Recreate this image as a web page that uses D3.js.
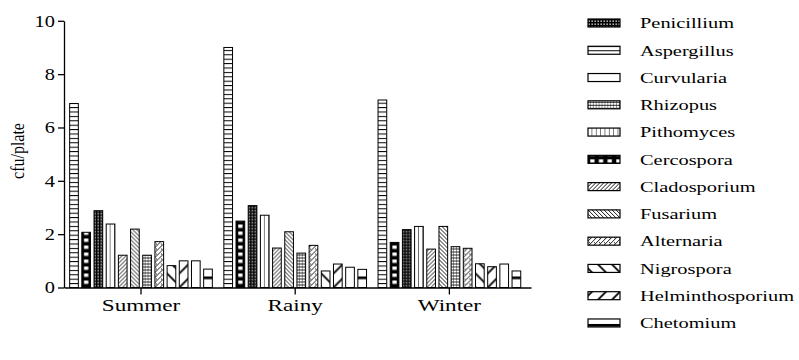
<!DOCTYPE html>
<html>
<head>
<meta charset="utf-8">
<script src="https://cdn.jsdelivr.net/npm/d3@7"></script>
<style>
  body { margin: 0; background: #fff; }
  svg { display: block; }
  svg text { font-family: "Liberation Serif", "Times New Roman", serif; fill: #000; }
</style>
</head>
<body>
<main></main>
<script>
const seasons = ["Summer", "Rainy", "Winter"];
const fungi = ["Penicillium", "Aspergillus", "Curvularia", "Rhizopus", "Pithomyces", "Cercospora",
  "Cladosporium", "Fusarium", "Alternaria", "Nigrospora", "Helminthosporium", "Chetomium"];
// values in the order of `fungi`
const summerValues = [2.88, 6.9, 1.0, 1.21, 2.38, 2.07, 1.21, 2.19, 1.72, 0.82, 1.0, 0.69];
const rainyValues  = [3.07, 9.0, 0.76, 1.29, 2.71, 2.49, 1.48, 2.09, 1.58, 0.62, 0.88, 0.68];
const winterValues = [2.17, 7.03, 0.88, 1.53, 2.29, 1.69, 1.44, 2.29, 1.47, 0.89, 0.78, 0.62];
// order in which the bars stand inside each season
const barOrder = ["Aspergillus", "Cercospora", "Penicillium", "Pithomyces", "Cladosporium", "Fusarium",
  "Rhizopus", "Alternaria", "Nigrospora", "Helminthosporium", "Curvularia", "Chetomium"];
const yTicks = [0, 2, 4, 6, 8, 10];

const valuesBySeason = { Summer: summerValues, Rainy: rainyValues, Winter: winterValues };
const serif = "'Liberation Serif', 'Times New Roman', serif";

const svg = d3.select("main").append("svg")
  .attr("width", 799).attr("height", 360).attr("viewBox", "0 0 799 360");

const x0 = d3.scaleBand().domain(seasons).range([64, 531])
  .paddingInner(0.0746).paddingOuter(0.0516).align(0.355);
const x1 = d3.scaleBand().domain(barOrder).range([0, x0.bandwidth()]).paddingInner(0.287);
const y = d3.scaleLinear().domain([0, 10]).range([287.5, 20.8]);
const bw = x1.bandwidth();

// fill patterns, one per fungus
const defs = svg.append("defs");
function pattern(name, w, h, draw) {
  const p = defs.append("pattern").attr("id", "p-" + name)
    .attr("patternUnits", "userSpaceOnUse").attr("width", w).attr("height", h);
  p.append("rect").attr("width", w).attr("height", h).attr("fill", "#fff");
  draw(p);
}
const line = (p, d, sw) => p.append("path").attr("d", d).attr("stroke", "#000")
  .attr("stroke-width", sw || 1).attr("fill", "none");

pattern("Aspergillus", 10, 4.4, p => line(p, "M0,0.5H10"));
pattern("Cercospora", bw, 7, p => {
  p.select("rect").attr("fill", "#000");
  p.append("rect").attr("x", 2.2).attr("y", 0).attr("width", bw - 4.4).attr("height", 3.4).attr("fill", "#fff");
});
pattern("Penicillium", 3, 3, p => {
  p.select("rect").attr("fill", "#000");
  p.append("rect").attr("x", 0.5).attr("y", 0.5).attr("width", 1.3).attr("height", 1.3).attr("fill", "#fff");
});
pattern("Pithomyces", bw / 2, 10, p => line(p, `M${bw / 2},0V10`));
pattern("Cladosporium", 4, 4, p => line(p, "M-1,1L1,-1M0,4L4,0M3,5L5,3", 0.9));
pattern("Fusarium", 4, 4, p => line(p, "M-1,3L1,5M0,0L4,4M3,-1L5,1", 0.9));
pattern("Rhizopus", bw / 3, 3, p => line(p, `M0,0.5H${bw / 3}M${bw / 3},0V3`, 0.8));
pattern("Alternaria", 5, 5, p => line(p, "M-1,1L1,-1M0,5L5,0M4,6L6,4M1,1L2.5,2.5", 0.9));
pattern("Nigrospora", 14, 14, p => line(p, "M0,0L14,14M-2,12L2,16M12,-2L16,2", 1.8));
pattern("Helminthosporium", 14, 14, p => line(p, "M0,14L14,0M-2,2L2,-2M12,16L16,12", 1.8));
pattern("Curvularia", 10, 10, p => {});
pattern("Chetomium", 10, 12, p => {
  p.append("rect").attr("x", 0).attr("y", 1).attr("width", 10).attr("height", 2.7).attr("fill", "#000");
});

// bars
const groups = svg.append("g").selectAll("g")
  .data(seasons)
  .join("g")
  .attr("transform", s => `translate(${x0(s)},${y(0)})`);

groups.selectAll("g")
  .data(s => barOrder.map(f => ({ fungus: f, value: valuesBySeason[s][fungi.indexOf(f)] })))
  .join("g")
  .attr("transform", d => `translate(${x1(d.fungus)},0)`)
  .append("rect")
  .attr("x", 0)
  .attr("y", d => y(d.value) - y(0))
  .attr("width", bw)
  .attr("height", d => y(0) - y(d.value))
  .attr("fill", d => `url(#p-${d.fungus})`)
  .attr("stroke", "#000")
  .attr("stroke-width", 1);

// axes
const yAxis = svg.append("g").attr("transform", "translate(64,0)")
  .call(d3.axisLeft(y).tickValues(yTicks).tickSize(6).tickSizeOuter(0).tickFormat(d3.format("d")));
yAxis.selectAll("text").attr("transform", "scale(1.2,1)").attr("x", -7.5)
  .style("font-size", "17px").style("font-family", serif);

const xAxis = svg.append("g").attr("transform", `translate(0,${y(0)})`)
  .call(d3.axisBottom(x0).tickSize(7).tickSizeOuter(0).tickPadding(4));
xAxis.selectAll("text").attr("transform", "scale(1.36,1)")
  .style("font-size", "17px").style("font-family", serif);

svg.selectAll(".domain, .tick line").attr("stroke", "#000").attr("stroke-width", 1.3);
svg.selectAll(".tick text").attr("fill", "#000");

svg.append("text")
  .attr("transform", "translate(17,151) scale(1.2,1) rotate(-90)")
  .attr("text-anchor", "middle")
  .attr("dy", "0.35em")
  .style("font-size", "16px").style("font-family", serif)
  .text("cfu/plate");

// legend
const legend = svg.append("g").selectAll("g")
  .data(fungi)
  .join("g")
  .attr("transform", (d, i) => `translate(588,${23 + i * 27.27})`);

legend.append("rect")
  .attr("x", 0).attr("y", -4).attr("width", 32).attr("height", 8)
  .attr("fill", d => `url(#p-${d})`)
  .attr("stroke", "#000").attr("stroke-width", 1.2);

legend.append("text")
  .attr("transform", "translate(52,0) scale(1.36,1)")
  .attr("dy", "0.35em")
  .style("font-size", "15px").style("font-family", serif)
  .text(d => d);
</script>
</body>
</html>
